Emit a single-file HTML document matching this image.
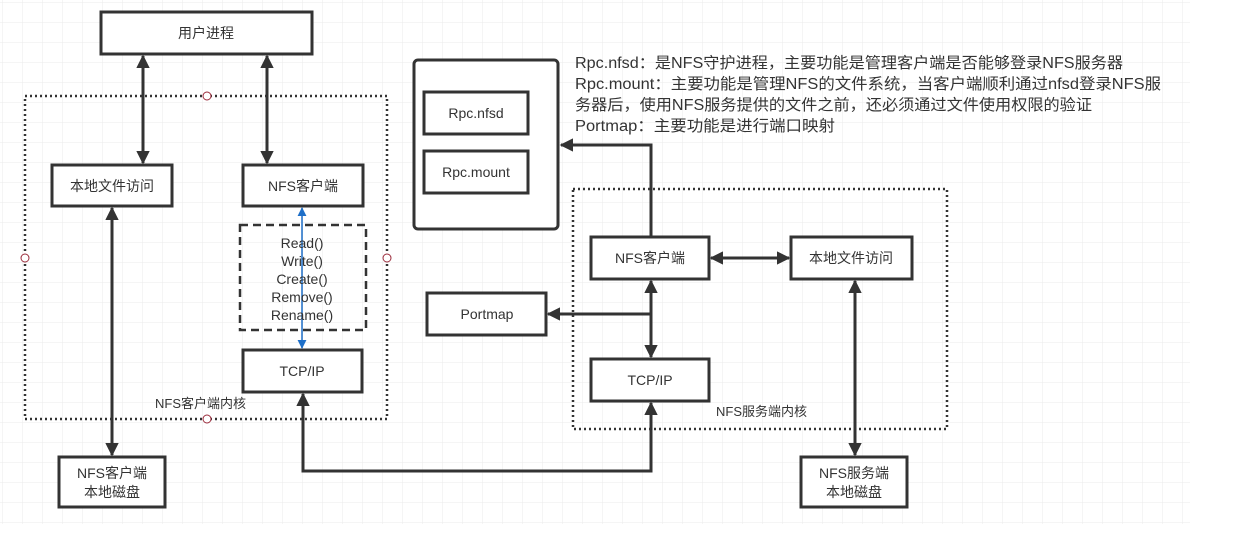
<!DOCTYPE html>
<html><head><meta charset="utf-8"><style>
html,body{margin:0;padding:0;background:#fff;}
svg{display:block;}
text{font-family:"Liberation Sans","Noto Sans CJK SC",sans-serif;fill:#333;}
</style></head><body>
<svg width="1247" height="539" xmlns="http://www.w3.org/2000/svg">
<defs>
<pattern id="g" width="20" height="20" patternUnits="userSpaceOnUse" x="3" y="3">
<path d="M20 0V20M0 20H20" stroke="#ebebeb" stroke-width="1" fill="none"/>
</pattern>
<marker id="a" viewBox="0 0 10 10" refX="9" refY="5" markerWidth="4.5" markerHeight="4.5" orient="auto-start-reverse" markerUnits="strokeWidth">
<path d="M0 0L10 5L0 10z" fill="#333"/></marker>
<marker id="b" viewBox="0 0 10 10" refX="9" refY="5" markerWidth="6" markerHeight="6" orient="auto-start-reverse" markerUnits="strokeWidth">
<path d="M0 0L10 5L0 10z" fill="#1e6fc8"/></marker>
</defs>
<rect x="0" y="0" width="1190" height="524" fill="url(#g)"/>
<g fill="#fff" stroke="#333" stroke-width="3">
<rect x="101" y="12" width="211" height="42"/>
<rect x="52" y="165" width="120" height="41"/>
<rect x="243" y="165" width="120" height="41"/>
<rect x="243" y="350" width="119" height="42"/>
<rect x="59" y="457" width="106" height="50"/>
<rect x="414" y="60" width="144" height="169" rx="4"/>
<rect x="424" y="92" width="104" height="42"/>
<rect x="424" y="151" width="104" height="42"/>
<rect x="427" y="293" width="119" height="42"/>
<rect x="591" y="237" width="118" height="42"/>
<rect x="791" y="237" width="121" height="42"/>
<rect x="591" y="359" width="118" height="42"/>
<rect x="801" y="457" width="106" height="50"/>
</g>
<rect x="240" y="225" width="126" height="105" fill="none" stroke="#333" stroke-width="2.5" stroke-dasharray="8,5"/>
<rect x="25" y="96" width="362" height="323" fill="none" stroke="#333" stroke-width="2.5" stroke-dasharray="2,3"/>
<rect x="573" y="189" width="374" height="240" fill="none" stroke="#333" stroke-width="2.5" stroke-dasharray="2,3"/>
<g fill="#fff" stroke="#9a2a3a" stroke-width="1">
<circle cx="207" cy="96" r="4"/><circle cx="25" cy="258" r="4"/><circle cx="387" cy="258" r="4"/><circle cx="207" cy="419" r="4"/>
</g>
<g stroke="#333" stroke-width="3" fill="none" marker-start="url(#a)" marker-end="url(#a)">
<path d="M143 56V163"/>
<path d="M267 56V163"/>
<path d="M112 208V455"/>
<path d="M303 394V471H651V403"/>
<path d="M651 281V357"/>
<path d="M711 258H789"/>
<path d="M855 281V455"/>
</g>
<g stroke="#333" stroke-width="3" fill="none" marker-end="url(#a)">
<path d="M651 236V145H561"/>
<path d="M651 314H548"/>
</g>
<path d="M302 208V348" stroke="#1e6fc8" stroke-width="1.5" marker-start="url(#b)" marker-end="url(#b)"/>
<g font-size="14" text-anchor="middle">
<text x="206" y="38">用户进程</text>
<text x="112" y="191">本地文件访问</text>
<text x="303" y="191">NFS客户端</text>
<text x="302" y="248">Read()</text>
<text x="302" y="266">Write()</text>
<text x="302" y="284">Create()</text>
<text x="302" y="302">Remove()</text>
<text x="302" y="320">Rename()</text>
<text x="302" y="376">TCP/IP</text>
<text x="112" y="478">NFS客户端</text>
<text x="112" y="497">本地磁盘</text>
<text x="476" y="118">Rpc.nfsd</text>
<text x="476" y="177">Rpc.mount</text>
<text x="487" y="319">Portmap</text>
<text x="650" y="263">NFS客户端</text>
<text x="851" y="263">本地文件访问</text>
<text x="650" y="385">TCP/IP</text>
<text x="854" y="478">NFS服务端</text>
<text x="854" y="497">本地磁盘</text>
</g>
<g font-size="13">
<text x="155" y="408">NFS客户端内核</text>
<text x="716" y="416">NFS服务端内核</text>
</g>
<g font-size="15.5">
<text x="575" y="68" textLength="548" lengthAdjust="spacingAndGlyphs">Rpc.nfsd：是NFS守护进程，主要功能是管理客户端是否能够登录NFS服务器</text>
<text x="575" y="89" textLength="586" lengthAdjust="spacingAndGlyphs">Rpc.mount：主要功能是管理NFS的文件系统，当客户端顺利通过nfsd登录NFS服</text>
<text x="575" y="110" textLength="517" lengthAdjust="spacingAndGlyphs">务器后，使用NFS服务提供的文件之前，还必须通过文件使用权限的验证</text>
<text x="575" y="131" textLength="260" lengthAdjust="spacingAndGlyphs">Portmap：主要功能是进行端口映射</text>
</g>
</svg>
</body></html>
